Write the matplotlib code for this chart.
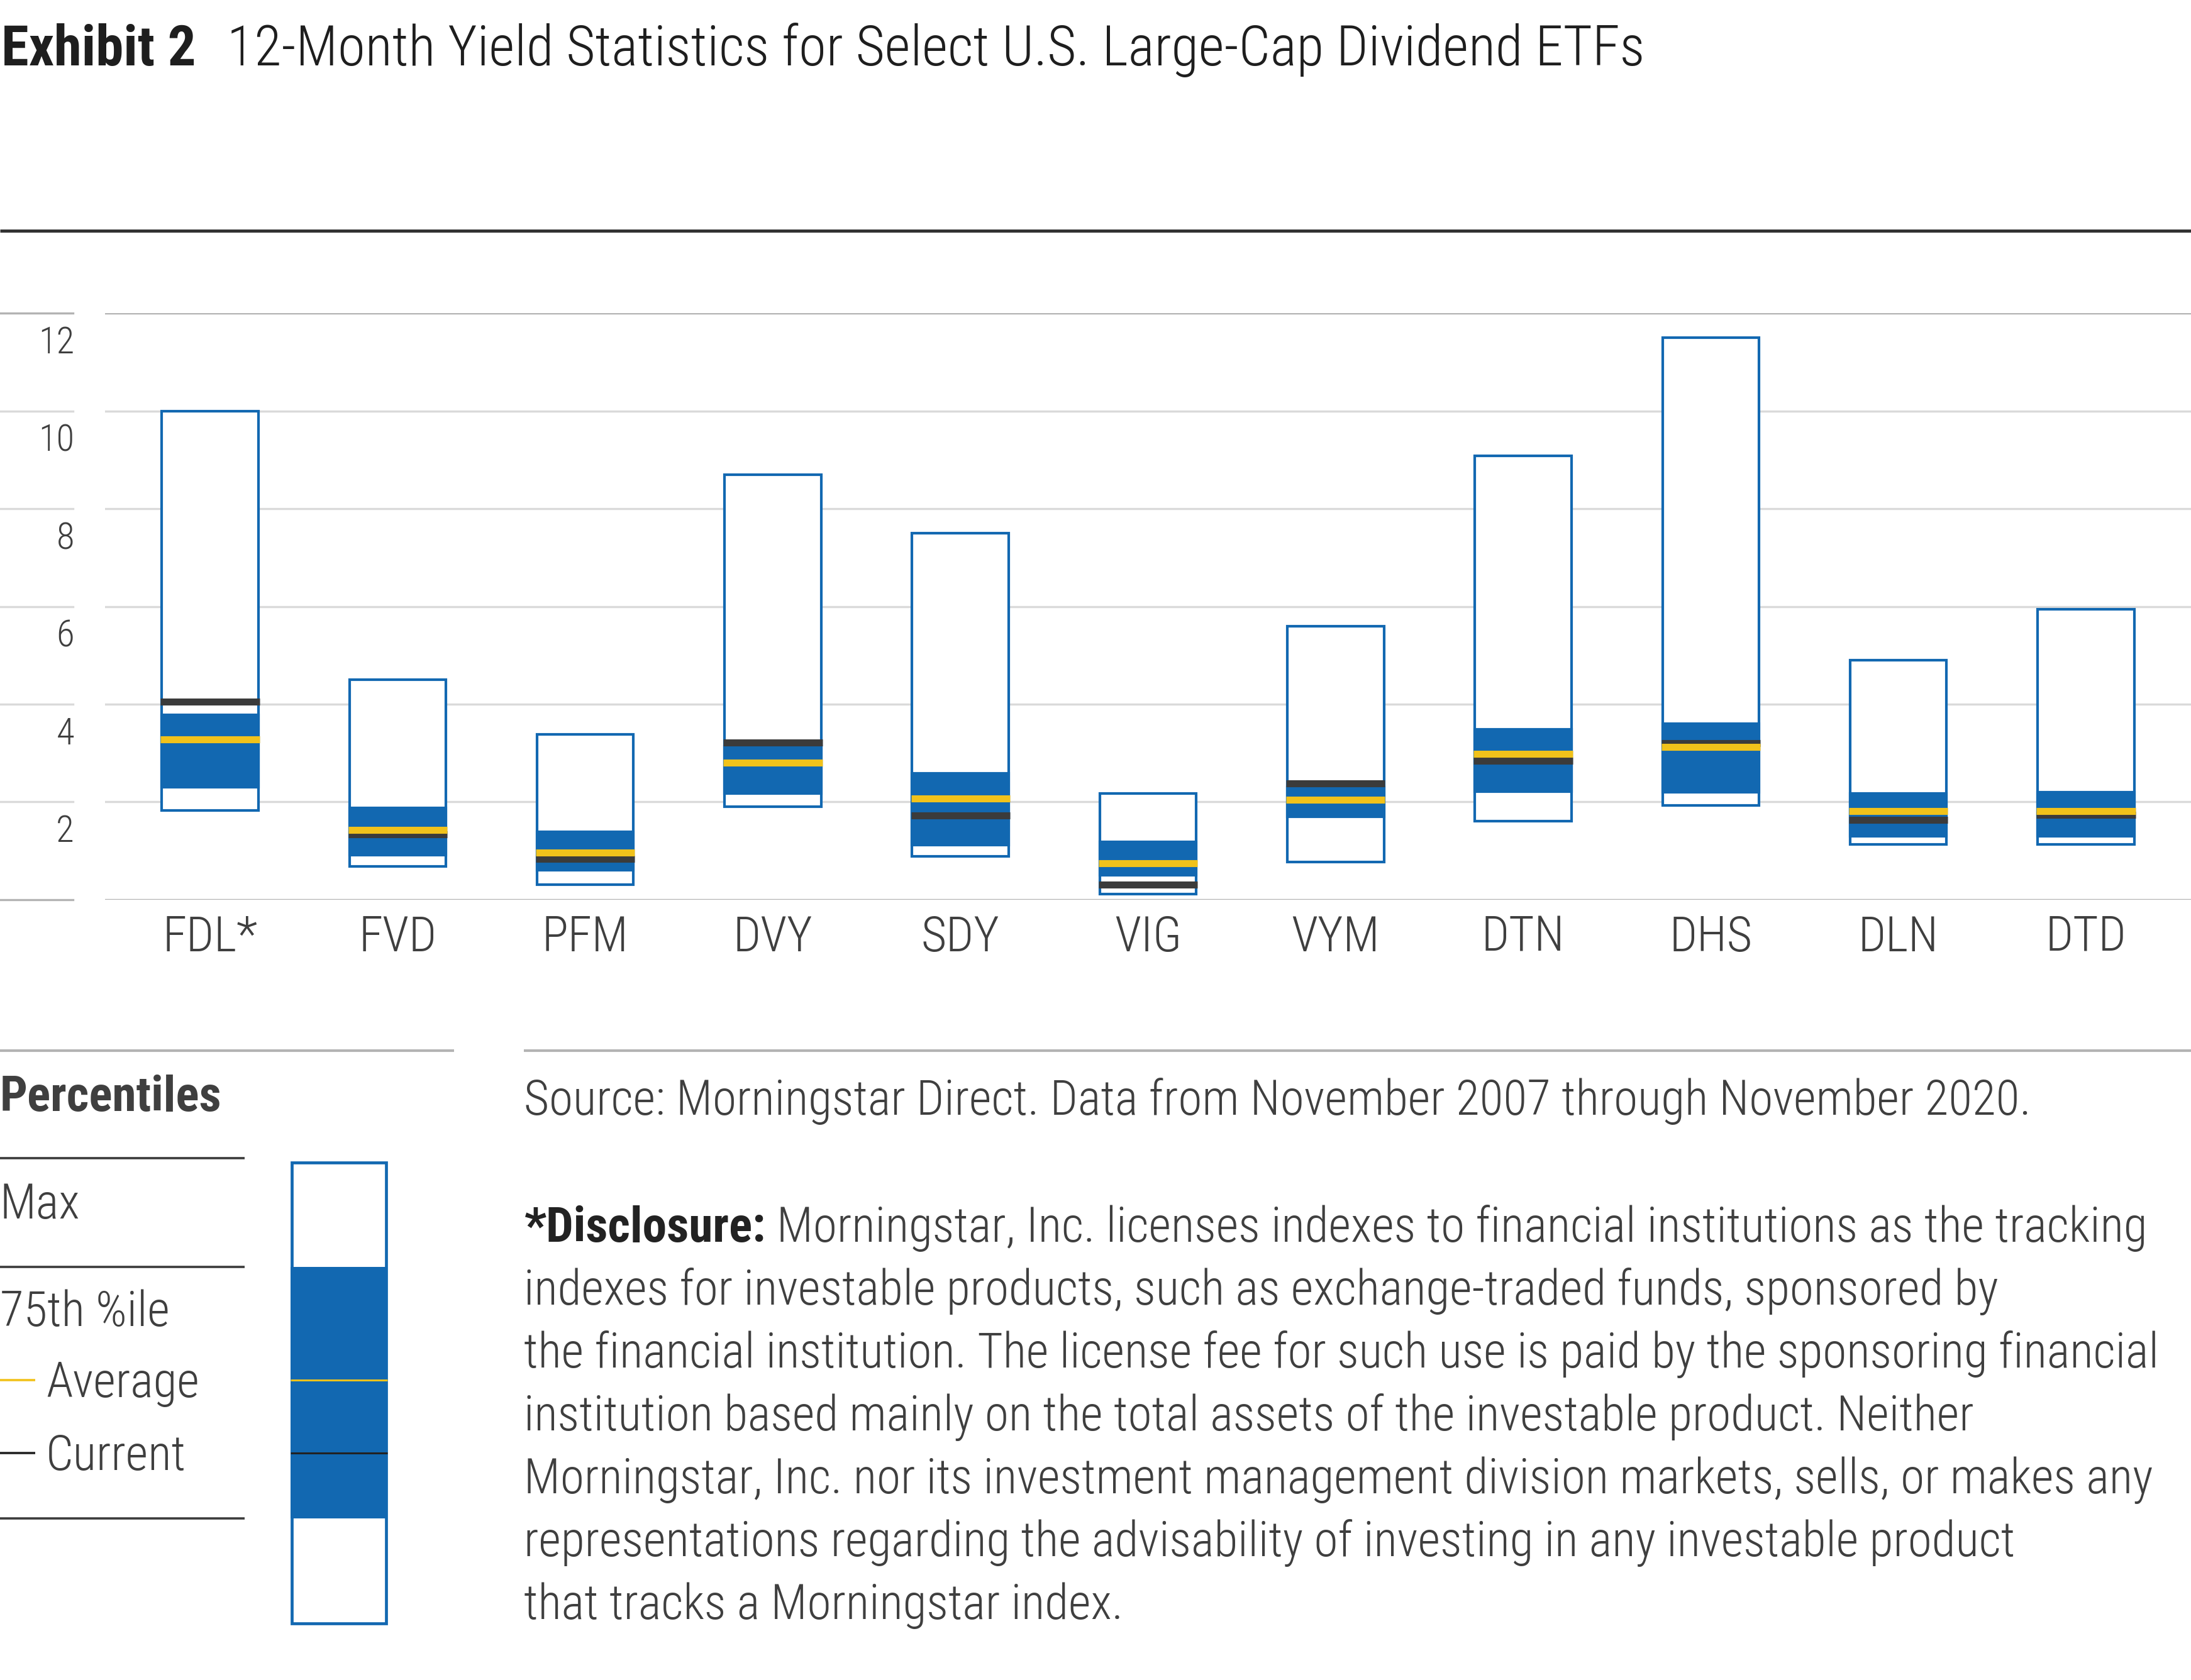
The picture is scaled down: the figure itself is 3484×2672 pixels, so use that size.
import matplotlib
matplotlib.use('Agg')
import matplotlib.pyplot as plt
from matplotlib import font_manager as fm
from matplotlib.transforms import blended_transform_factory, offset_copy

# ---------------- data ----------------
tickers = ["FDL*", "FVD", "PFM", "DVY", "SDY", "VIG", "VYM", "DTN", "DHS", "DLN", "DTD"]
y_max = [10.0, 4.50, 3.38, 8.70, 7.50, 2.18, 5.60, 9.08, 11.50, 4.90, 5.94]
y_p75 = [3.78, 1.88, 1.39, 3.14, 2.59, 1.18, 2.30, 3.49, 3.60, 2.17, 2.20]
y_avg = [3.28, 1.43, 0.97, 2.80, 2.07, 0.75, 2.05, 2.99, 3.12, 1.81, 1.81]
y_cur = [4.05, 1.34, 0.83, 3.22, 1.72, 0.31, 2.38, 2.84, 3.20, 1.63, 1.73]
y_p25 = [2.30, 0.91, 0.61, 2.17, 1.12, 0.50, 1.70, 2.21, 2.20, 1.30, 1.30]
y_min = [1.83, 0.68, 0.31, 1.90, 0.89, 0.12, 0.77, 1.61, 1.93, 1.13, 1.13]
y_ticks = [0, 2, 4, 6, 8, 10, 12]
y_tick_labels = ["", "2", "4", "6", "8", "10", "12"]

title_bold = "Exhibit 2"
title_text = "12-Month Yield Statistics for Select U.S. Large-Cap Dividend ETFs"
source_text = "Source: Morningstar Direct. Data from November 2007 through November 2020."
disc_bold = "*Disclosure:"
disc_lines = [
    "Morningstar, Inc. licenses indexes to financial institutions as the tracking",
    "indexes for investable products, such as exchange-traded funds, sponsored by",
    "the financial institution. The license fee for such use is paid by the sponsoring financial",
    "institution based mainly on the total assets of the investable product. Neither",
    "Morningstar, Inc. nor its investment management division markets, sells, or makes any",
    "representations regarding the advisability of investing in any investable product",
    "that tracks a Morningstar index.",
]
legend_title = "Percentiles"
legend_labels = ["Max", "75th %ile", "Average", "Current"]

# ---------------- style ----------------
BLUE = "#1268b1"
YELLOW = "#f1c21b"
DARK = "#3b3b3b"
TEXT = "#3f3f3f"
GRID = "#dadada"
GRID_DARK = "#b3b3b3"
REG = "light"

avail = {f.name for f in fm.fontManager.ttflist}
FONT = "DejaVu Sans"
for cand in ["Roboto Condensed", "Liberation Sans Narrow", "Open Sans Condensed", "Roboto"]:
    if cand in avail:
        FONT = cand
        break
plt.rcParams["font.family"] = [FONT, "DejaVu Sans"]

W, H, DPI = 3484, 2672, 200
fig = plt.figure(figsize=(W / DPI, H / DPI), dpi=DPI)
fig.patch.set_facecolor("white")

ov = fig.add_axes([0, 0, 1, 1])
ov.set_xlim(0, W)
ov.set_ylim(H, 0)
ov.axis("off")

renderer = fig.canvas.get_renderer()


def width_of(s, size, weight=REG):
    t = ov.text(0, 0, s, fontsize=size, fontweight=weight)
    w = t.get_window_extent(renderer).width
    t.remove()
    return w


# ---- size fitting (to mimic the condensed face of the original) ----
BODY_NOM = 30.0
gap_body = width_of(" ", BODY_NOM)
w_line1 = width_of(disc_bold, BODY_NOM, "bold") + gap_body + width_of(disc_lines[0], BODY_NOM)
body_size = min(BODY_NOM * 1.08, BODY_NOM * 2585.0 / w_line1)
cond = body_size / BODY_NOM

TITLE_NOM = 33.5
w_title = width_of(title_bold, TITLE_NOM, "bold") + 51 + width_of(title_text, TITLE_NOM)
title_size = min(TITLE_NOM * 1.08, TITLE_NOM * 2611.0 / w_title)

xtick_size = 29 * min(1.0, cond ** 0.5)
ytick_size = 22 * min(1.0, cond ** 0.5)

# ---------------- title & top rule ----------------
ov.text(2, 104, title_bold, fontsize=title_size, fontweight="bold", color="#1e1e1e",
        va="baseline", ha="left")
wb = width_of(title_bold, title_size, "bold")
ov.text(2 + wb + 51 * title_size / TITLE_NOM, 104, title_text, fontsize=title_size,
        fontweight=REG, color="#1e1e1e", va="baseline", ha="left")
ov.plot([0, W], [367, 367], color="#333333", lw=1.8, solid_capstyle="butt")

# ---------------- main chart ----------------
ax = fig.add_axes([167 / W, 1 - 1431 / H, 1 - 167 / W, (1431 - 498) / H])
ax.set_facecolor("none")
ax.set_xlim(-0.56, len(tickers) - 1 + 0.56)
ax.set_ylim(0, 12)
for s in ax.spines.values():
    s.set_visible(False)
ax.set_xticks([])
ax.set_yticks([])

blend = blended_transform_factory(fig.transFigure, ax.transData)
for v, lab in zip(y_ticks, y_tick_labels):
    c = GRID_DARK if v in (0, 12) else GRID
    ax.axhline(v, color=c, lw=1.2, zorder=0)
    ax.plot([0, 116 / W], [v, v], transform=blend, color=c, lw=1.2, clip_on=False, zorder=0)
    if lab:
        ax.text(118 / W, v, lab, transform=offset_copy(blend, fig=fig, y=-64, units="dots"),
                ha="right", va="baseline", fontsize=ytick_size, fontweight=REG, color=TEXT)

xs = list(range(len(tickers)))
BW = 0.515
hmax = [a - b for a, b in zip(y_max, y_min)]
hmid = [a - b for a, b in zip(y_p75, y_p25)]
ax.bar(xs, hmax, bottom=y_min, width=BW, facecolor="white", edgecolor=BLUE, lw=1.5, zorder=2)
ax.bar(xs, hmid, bottom=y_p25, width=BW, facecolor=BLUE, edgecolor=BLUE, lw=1.5, zorder=3)
half = BW / 2 + 0.006
ax.hlines(y_cur, [x - half for x in xs], [x + half for x in xs], color=DARK, lw=4.0,
          zorder=4, capstyle="butt")
ax.hlines(y_avg, [x - half for x in xs], [x + half for x in xs], color=YELLOW, lw=4.0,
          zorder=5, capstyle="butt")

xtr = offset_copy(ax.transData, fig=fig, y=-82, units="dots")
for x, lab in zip(xs, tickers):
    ax.text(x, 0, lab, transform=xtr, ha="center", va="baseline", fontsize=xtick_size,
            fontweight=REG, color=TEXT)

# ---------------- legend block ----------------
ov.plot([0, 722], [1671, 1671], color=GRID_DARK, lw=1.5, solid_capstyle="butt")
ov.plot([833, W], [1671, 1671], color=GRID_DARK, lw=1.5, solid_capstyle="butt")
ov.text(0, 1767, legend_title, fontsize=body_size, fontweight="bold", color=TEXT,
        va="baseline", ha="left")
for yy in (1842, 2015, 2415):
    ov.plot([0, 389], [yy, yy], color=DARK, lw=1.3, solid_capstyle="butt")
ov.text(0, 1938, legend_labels[0], fontsize=body_size, fontweight=REG, color=TEXT, va="baseline")
ov.text(0, 2109, legend_labels[1], fontsize=body_size, fontweight=REG, color=TEXT, va="baseline")
ov.plot([0, 56], [2195, 2195], color=YELLOW, lw=1.3, solid_capstyle="butt")
ov.text(73, 2222, legend_labels[2], fontsize=body_size, fontweight=REG, color=TEXT, va="baseline")
ov.plot([0, 56], [2311, 2311], color="#222222", lw=1.3, solid_capstyle="butt")
ov.text(73, 2338, legend_labels[3], fontsize=body_size, fontweight=REG, color=TEXT, va="baseline")

ov.add_patch(plt.Rectangle((464, 1849), 150, 733, facecolor="white", edgecolor=BLUE, lw=1.7))
ov.add_patch(plt.Rectangle((462, 2015), 154, 400, facecolor=BLUE, edgecolor="none"))
ov.plot([462, 616], [2195, 2195], color=YELLOW, lw=1.1, solid_capstyle="butt")
ov.plot([462, 616], [2311, 2311], color="#222222", lw=1.1, solid_capstyle="butt")

# ---------------- source & disclosure ----------------
ov.text(833, 1773, source_text, fontsize=body_size, fontweight=REG, color=TEXT, va="baseline")
wdb = width_of(disc_bold, body_size, "bold")
sp = width_of(" ", body_size)
ov.text(833, 1975, disc_bold, fontsize=body_size, fontweight="bold", color="#222222",
        va="baseline")
for i, line in enumerate(disc_lines):
    x0 = 833 + (wdb + sp if i == 0 else 0)
    ov.text(x0, 1975 + 100 * i, line, fontsize=body_size, fontweight=REG, color=TEXT,
            va="baseline")

fig.savefig("out.png", dpi=DPI, facecolor="white")
